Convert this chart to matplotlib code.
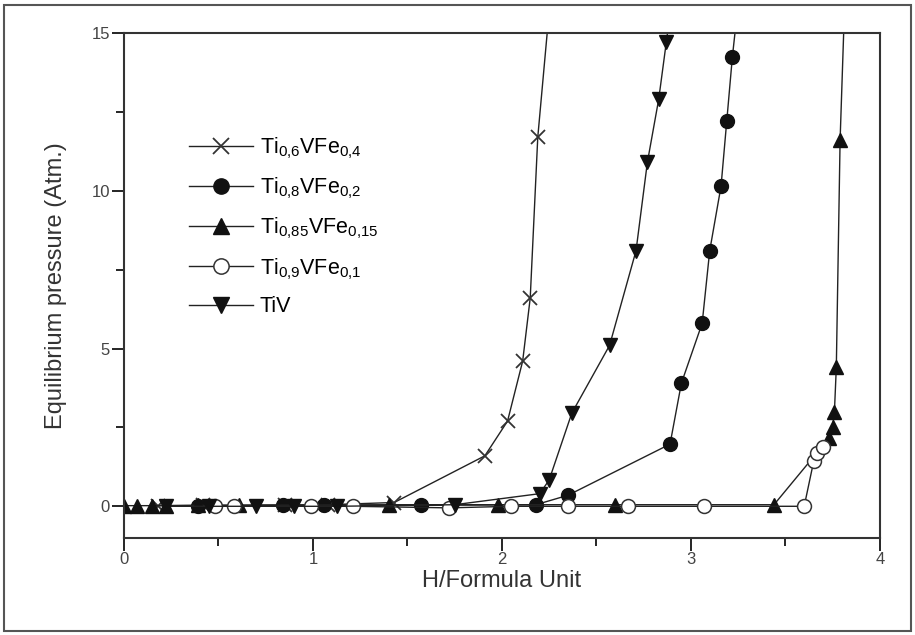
import matplotlib.pyplot as plt
from matplotlib.patches import Rectangle
from matplotlib.ticker import MultipleLocator

plt.rcParams['font.family'] = ['Liberation Sans', 'DejaVu Sans']
plt.rcParams['mathtext.default'] = 'regular'

# Ti0.6VFe0.4 (crosses)
x_ti06 = [0.18, 0.42, 0.85, 1.08, 1.43, 1.91, 2.03, 2.11, 2.15, 2.19, 2.27]
y_ti06 = [0.02, 0.03, 0.04, 0.05, 0.12, 1.6, 2.7, 4.6, 6.6, 11.7, 17.0]
# Ti0.8VFe0.2 (filled circles)
x_ti08 = [0.39, 0.84, 1.06, 1.57, 2.18, 2.35, 2.89, 2.95, 3.06, 3.10, 3.16, 3.19, 3.22, 3.27]
y_ti08 = [0.02, 0.03, 0.03, 0.03, 0.05, 0.35, 1.97, 3.9, 5.8, 8.1, 10.15, 12.2, 14.25, 17.0]
# Ti0.85VFe0.15 (up triangles)
x_ti085 = [0.0, 0.07, 0.15, 0.22, 0.39, 0.61, 1.40, 1.98, 2.60, 3.44, 3.73, 3.75, 3.76, 3.77, 3.79, 3.82]
y_ti085 = [0.02, 0.02, 0.02, 0.02, 0.03, 0.03, 0.05, 0.05, 0.05, 0.05, 2.15, 2.52, 3.0, 4.4, 11.6, 17.0]
# Ti0.9VFe0.1 (open circles)
x_ti09 = [0.48, 0.58, 0.99, 1.21, 1.72, 2.05, 2.35, 2.67, 3.07, 3.60, 3.65, 3.67, 3.70]
y_ti09 = [0.0, 0.0, 0.0, 0.0, -0.05, 0.0, 0.0, 0.0, 0.0, 0.0, 1.42, 1.68, 1.88]
# TiV (down triangles)
x_tiv = [0.22, 0.45, 0.70, 0.90, 1.13, 1.75, 2.20, 2.25, 2.37, 2.57, 2.71, 2.77, 2.83, 2.87, 2.92]
y_tiv = [0.0, 0.0, 0.0, 0.0, 0.0, 0.05, 0.4, 0.83, 2.95, 5.1, 8.1, 10.9, 12.9, 14.7, 17.0]

labels = [r'Ti$_{0{,}6}$VFe$_{0{,}4}$', r'Ti$_{0{,}8}$VFe$_{0{,}2}$', r'Ti$_{0{,}85}$VFe$_{0{,}15}$',
          r'Ti$_{0{,}9}$VFe$_{0{,}1}$', 'TiV']

fig = plt.figure(figsize=(9.15, 6.35), dpi=100)
ax = fig.add_axes([0.1355, 0.153, 0.826, 0.795])
fig.patches.append(Rectangle((0.004, 0.006), 0.992, 0.986, transform=fig.transFigure,
                             fill=False, edgecolor='#555555', linewidth=1.5))

lc = '#222222'
ax.plot(x_ti06, y_ti06, color=lc, lw=1, marker='x', ms=10, mew=1.3, mec='#333333', label=labels[0])
ax.plot(x_ti08, y_ti08, color=lc, lw=1, marker='o', ms=10, mfc='#111111', mec='#111111', label=labels[1])
ax.plot(x_ti085, y_ti085, color=lc, lw=1, marker='^', ms=10, mfc='#111111', mec='#111111', label=labels[2])
ax.plot(x_ti09, y_ti09, color=lc, lw=1, marker='o', ms=10, mfc='white', mec='#333333', mew=1.1, label=labels[3])
ax.plot(x_tiv, y_tiv, color=lc, lw=1, marker='v', ms=10, mfc='#111111', mec='#111111', label=labels[4])

ax.set_xlim(0, 4)
ax.set_ylim(-1, 15)
ax.xaxis.set_major_locator(MultipleLocator(1))
ax.xaxis.set_minor_locator(MultipleLocator(0.5))
ax.yaxis.set_major_locator(MultipleLocator(5))
ax.yaxis.set_minor_locator(MultipleLocator(2.5))
ax.tick_params(which='major', direction='out', length=9, width=1.2, labelsize=12,
               labelcolor='#444444', pad=1)
ax.tick_params(which='minor', direction='out', length=6, width=1.2)
for s in ax.spines.values():
    s.set_linewidth(1.5)
    s.set_color('#333333')

ax.set_xlabel('H/Formula Unit', fontsize=17, color='#333333', labelpad=2)
ax.set_ylabel('Equilibrium pressure (Atm.)', fontsize=17, color='#333333', labelpad=18)

ax.legend(loc='upper left', bbox_to_anchor=(0.06, 0.835), frameon=False, fontsize=15.5,
          handlelength=3.0, labelspacing=0.68, handletextpad=0.3, markerscale=1.1)

fig.savefig('out.png', dpi=100)
